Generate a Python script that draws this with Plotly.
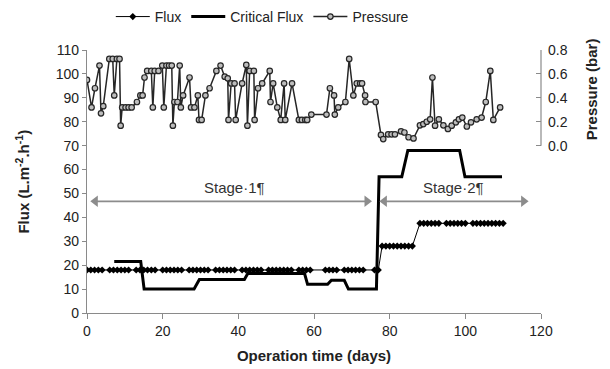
import plotly.graph_objects as go

# ---------------- data ----------------
flux_days = [0, 1, 2, 3, 4, 6, 7, 8, 9, 10, 11, 13, 14, 15, 16, 17, 18,
             20, 21, 22, 23, 24, 25, 27, 28, 29, 30, 31, 32, 34, 35, 36, 37, 38, 39,
             41, 42, 43, 44, 45, 46, 48, 49, 50, 51, 52, 53, 54, 56, 57, 58, 59,
             63, 64, 65, 66, 68, 69, 70, 71, 72, 73, 76, 77,
             78, 79, 80, 81, 82, 83, 84, 85, 86,
             88, 89, 90, 91, 92, 93, 95, 96, 97, 98, 99, 100,
             102, 103, 104, 105, 106, 107, 108, 109, 110]
flux_values = [18, 18, 18, 18, 18, 18, 18, 18, 18, 18, 18, 18, 18, 18, 18, 18, 18,
               18, 18, 18, 18, 18, 18, 18, 18, 18, 18, 18, 18, 18, 18, 18, 18, 18, 18,
               18, 18, 18, 18, 18, 18, 18, 18, 18, 18, 18, 18, 18, 18, 18, 18, 18,
               18, 18, 18, 18, 18, 18, 18, 18, 18, 18, 18, 18,
               28, 28, 28, 28, 28, 28, 28, 28, 28,
               37.5, 37.5, 37.5, 37.5, 37.5, 37.5, 37.5, 37.5, 37.5, 37.5, 37.5, 37.5,
               37.5, 37.5, 37.5, 37.5, 37.5, 37.5, 37.5, 37.5, 37.5]

crit_days = [7.2, 14.2, 15.1, 28.3, 29.7, 41.6, 42.5, 57.5, 58.3, 63.6, 64.6, 68.0,
             69.1, 76.5, 77.2, 83.2, 84.8, 98.5, 99.9, 109.7]
crit_values = [21.5, 21.5, 10, 10, 14, 14, 16.5, 16.5, 12, 12, 13.7, 13.7,
               10, 10, 57, 57, 68, 68, 57, 57]

press_days = [0.0, 1.2, 2.1, 3.3, 3.7, 4.3, 5.9, 6.8, 7.2, 7.9, 8.6, 8.9, 9.3, 10.2, 11.0,
              11.8, 13.2, 14.1, 14.7, 15.2, 15.9, 17.0, 17.4, 17.9, 18.9, 19.9, 20.3, 21.0,
              21.7, 22.4, 22.7, 23.1, 23.9, 24.5, 24.8, 25.4, 27.1, 27.5, 28.4, 29.3, 29.6,
              30.3, 31.3, 32.4, 34.2, 35.3, 36.4, 37.2, 37.4, 38.1, 39.0, 39.3, 41.0, 42.1,
              42.4, 43.0, 44.1, 44.3, 45.2, 46.3, 48.3, 48.5, 49.2, 50.3, 51.2, 52.1, 52.4,
              54.2, 56.0, 56.8, 57.7, 58.2, 59.3, 63.3, 64.2, 65.3, 65.5, 66.4, 68.3, 69.3,
              70.4, 71.3, 72.2, 72.7, 73.5, 73.6, 76.3, 77.7, 78.3, 79.6, 80.5, 81.4, 83.0,
              83.9, 85.0, 86.3, 88.0, 88.9, 89.8, 90.7, 91.3, 92.0, 93.0, 94.2, 95.4, 96.4,
              97.5, 98.3, 99.2, 100.4, 101.5, 103.0, 104.3, 105.4, 106.6, 107.4, 109.2]
press_values = [0.55, 0.32, 0.48, 0.67, 0.27, 0.33, 0.725, 0.725, 0.42, 0.725, 0.725, 0.167,
                0.32, 0.32, 0.32, 0.32, 0.365, 0.42, 0.42, 0.57, 0.625, 0.625, 0.32, 0.625,
                0.625, 0.67, 0.32, 0.67, 0.67, 0.67, 0.167, 0.365, 0.365, 0.67, 0.32, 0.42,
                0.57, 0.32, 0.32, 0.42, 0.215, 0.215, 0.42, 0.48, 0.625, 0.67, 0.577, 0.563,
                0.215, 0.52, 0.52, 0.215, 0.52, 0.675, 0.167, 0.625, 0.625, 0.215, 0.48, 0.52,
                0.625, 0.365, 0.52, 0.32, 0.215, 0.52, 0.215, 0.52, 0.215, 0.215, 0.215, 0.215,
                0.26, 0.26, 0.48, 0.42, 0.26, 0.32, 0.365, 0.725, 0.42, 0.52, 0.52, 0.52, 0.42,
                0.365, 0.365, 0.09, 0.055, 0.095, 0.095, 0.095, 0.12, 0.11, 0.07, 0.06, 0.17,
                0.18, 0.2, 0.22, 0.57, 0.167, 0.22, 0.17, 0.14, 0.167, 0.195, 0.22, 0.235,
                0.16, 0.195, 0.22, 0.235, 0.365, 0.625, 0.215, 0.32]

x_ticks = [0, 20, 40, 60, 80, 100, 120]
y_ticks = [0, 10, 20, 30, 40, 50, 60, 70, 80, 90, 100, 110]
p_ticks = [0.0, 0.2, 0.4, 0.6, 0.8]
p_ticklabels = ["0.0", "0.2", "0.4", "0.6", "0.8"]

stage1_span = [2.2, 74.0]
stage2_span = [78.6, 115.4]
stage_level = 46.7
stage_labels = ["Stage·1¶", "Stage·2¶"]
stage_label_pos = [(39, 52.5), (97, 52.5)]

# ---------------- figure ----------------
FONT = "Liberation Sans, Arial, sans-serif"
AX = "#8a8a8a"
ARROW = "#8c8c8c"

fig = go.Figure()

fig.add_trace(go.Scatter(
    x=flux_days, y=flux_values, name="Flux", mode="lines+markers",
    line=dict(color="black", width=1),
    marker=dict(symbol="diamond", size=5.5, color="black"),
))
fig.add_trace(go.Scatter(
    x=crit_days, y=crit_values, name="Critical Flux", mode="lines",
    line=dict(color="black", width=3),
))
fig.add_trace(go.Scatter(
    x=press_days, y=press_values, name="Pressure", mode="lines+markers", yaxis="y2",
    line=dict(color="#262626", width=1.5),
    marker=dict(symbol="circle", size=5.5, color="#bdbdbd", line=dict(color="#262626", width=1.2)),
))

# stage arrows (double headed) as line + triangle markers
for span in (stage1_span, stage2_span):
    fig.add_trace(go.Scatter(
        x=span, y=[stage_level, stage_level], mode="lines+markers", showlegend=False,
        hoverinfo="skip",
        line=dict(color=ARROW, width=1.6),
        marker=dict(symbol=["triangle-left", "triangle-right"], size=10, color=ARROW),
    ))

annotations = []
for lbl, (lx, ly) in zip(stage_labels, stage_label_pos):
    annotations.append(dict(
        x=lx, y=ly, xref="x", yref="y", text=lbl, showarrow=False,
        font=dict(family=FONT, size=15, color="#333333"),
    ))
annotations.append(dict(
    x=-0.143, y=0.5, xref="paper", yref="paper", textangle=-90,
    text="<b>Flux (L.m<sup>-2</sup>.h<sup>-1</sup>)</b>", showarrow=False,
    font=dict(family=FONT, size=15, color="#222222"), xanchor="center", yanchor="middle",
))
annotations.append(dict(
    x=1.112, y=0.85, xref="paper", yref="paper", textangle=-90,
    text="<b>Pressure (bar)</b>", showarrow=False,
    font=dict(family=FONT, size=15, color="#222222"), xanchor="center", yanchor="middle",
))

fig.update_layout(
    width=610, height=369,
    margin=dict(l=87, r=69, t=50, b=56, autoexpand=False),
    paper_bgcolor="white", plot_bgcolor="white",
    font=dict(family=FONT, size=14, color="#222222"),
    showlegend=True,
    legend=dict(orientation="h", x=0.43, y=0.954, xref="container", yref="container",
                xanchor="center", yanchor="middle",
                font=dict(family=FONT, size=14, color="#222222"),
                itemwidth=34, bgcolor="rgba(0,0,0,0)"),
    xaxis=dict(range=[0, 120], tickvals=x_ticks, showline=True, linecolor=AX, linewidth=1.2,
               ticks="outside", ticklen=5, tickcolor=AX, showgrid=False, zeroline=False,
               tickfont=dict(size=14),
               title=dict(text="<b>Operation time (days)</b>", font=dict(size=15), standoff=12)),
    yaxis=dict(range=[0, 110], tickvals=y_ticks, showline=True, linecolor=AX, linewidth=1.2,
               ticks="outside", ticklen=4, tickcolor=AX, showgrid=False, zeroline=False,
               tickfont=dict(size=14)),
    yaxis2=dict(range=[-1.4, 0.8], overlaying="y", side="right", tickvals=p_ticks,
                ticktext=p_ticklabels, ticks="inside", ticklen=5, tickcolor=AX,
                ticklabelstandoff=6,
                showline=False, showgrid=False, zeroline=False, tickfont=dict(size=14)),
    shapes=[dict(type="line", xref="paper", yref="y2", x0=1, x1=1, y0=0, y1=0.8,
                 line=dict(color=AX, width=1.2))],
    annotations=annotations,
)

fig.write_html("out.html")
